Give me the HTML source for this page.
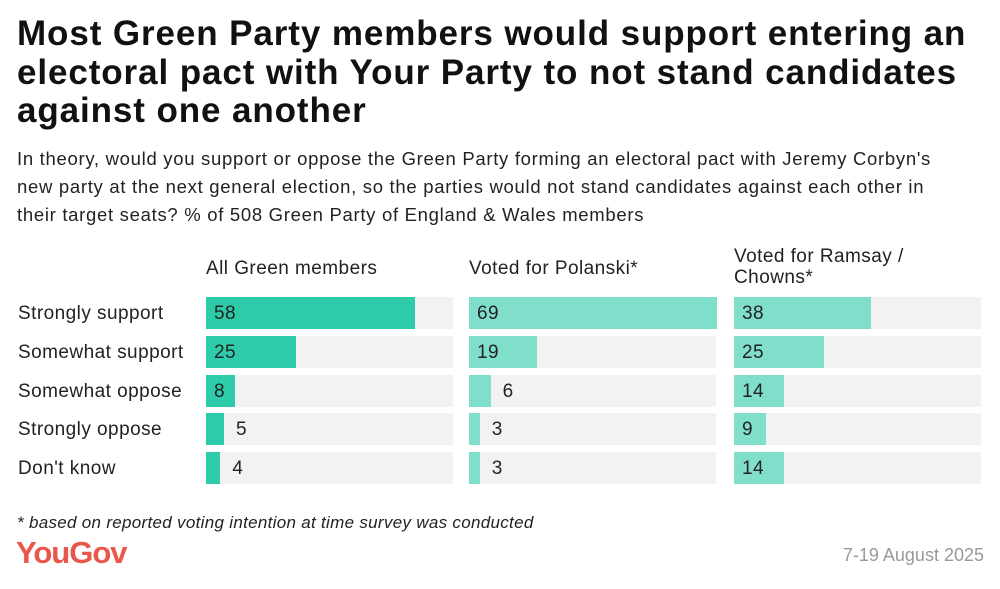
<!DOCTYPE html>
<html><head><meta charset="utf-8"><style>
body{margin:0;width:1000px;height:589px;background:#fff;font-family:"Liberation Sans",sans-serif;color:#1a1a1a;position:relative;overflow:hidden}
#title{position:absolute;left:17px;top:15px;width:965px;font-size:35px;font-weight:bold;line-height:38.5px;letter-spacing:0.9px;color:#111}
#sub{position:absolute;left:17px;top:145px;width:940px;font-size:18.5px;line-height:28px;letter-spacing:0.7px;color:#222}
.t{position:absolute;font-size:19px;letter-spacing:0.45px;color:#222}
#foot{position:absolute;left:17px;top:513px;font-size:17px;letter-spacing:0.3px;font-style:italic;color:#222}
#logo{position:absolute;left:16px;top:535px;font-size:31px;font-weight:bold;color:#e8574a;letter-spacing:-1px}
#date{position:absolute;right:16px;top:545px;font-size:18px;color:#999}
</style></head><body>
<div id="title">Most Green Party members would support entering an electoral pact with Your Party to not stand candidates against one another</div>
<div id="sub">In theory, would you support or oppose the Green Party forming an electoral pact with Jeremy Corbyn's new party at the next general election, so the parties would not stand candidates against each other in their target seats? % of 508 Green Party of England &amp; Wales members</div>
<div id="chart"></div>
<div id="foot">* based on reported voting intention at time survey was conducted</div>
<div id="logo">YouGov</div>
<div id="date">7-19 August 2025</div>
<script>
const categories=["Strongly support","Somewhat support","Somewhat oppose","Strongly oppose","Don't know"];
const groups=["All Green members","Voted for Polanski*","Voted for Ramsay / Chowns*"];
const allGreen=[58,25,8,5,4];
const polanski=[69,19,6,3,3];
const ramsay=[38,25,14,9,14];
const series=[allGreen,polanski,ramsay];
const colors=["#2ecbaa","#80dfcb","#80dfcb"];
const panelX=[206,469,734],panelW=247,rowY=[297,336,374.5,413,452],barH=32,pxPer=3.6;
const c=document.getElementById('chart');
function x(v){return v*pxPer;}
categories.forEach((cat,i)=>{
 const d=document.createElement('div');d.className='t';
 
 
 d.style.left='18px';d.style.top=(rowY[i]+6)+'px';d.textContent=cat;c.appendChild(d);
});
groups.forEach((g,p)=>{
 const h=document.createElement('div');h.className='t';
 
 
 h.style.left=panelX[p]+'px';h.style.width='200px';h.style.lineHeight='21px';
 h.style.top=(p==2?246:258)+'px';h.textContent=g;c.appendChild(h);
 series[p].forEach((v,i)=>{
  const bg=document.createElement('div');
  
  
  bg.style.cssText=`position:absolute;left:${panelX[p]}px;top:${rowY[i]}px;width:${panelW}px;height:${barH}px;background:#f2f2f2`;
  c.appendChild(bg);
  const b=document.createElement('div');
  
  
  b.style.cssText=`position:absolute;left:${panelX[p]}px;top:${rowY[i]}px;width:${x(v)}px;height:${barH}px;background:${colors[p]}`;
  c.appendChild(b);
  const l=document.createElement('div');l.className='t';
  
  
  const lx=v>=7?panelX[p]+8:panelX[p]+x(v)+12;
  l.style.left=lx+'px';l.style.top=(rowY[i]+6)+'px';l.textContent=v;c.appendChild(l);
 });
});
</script>
</body></html>
